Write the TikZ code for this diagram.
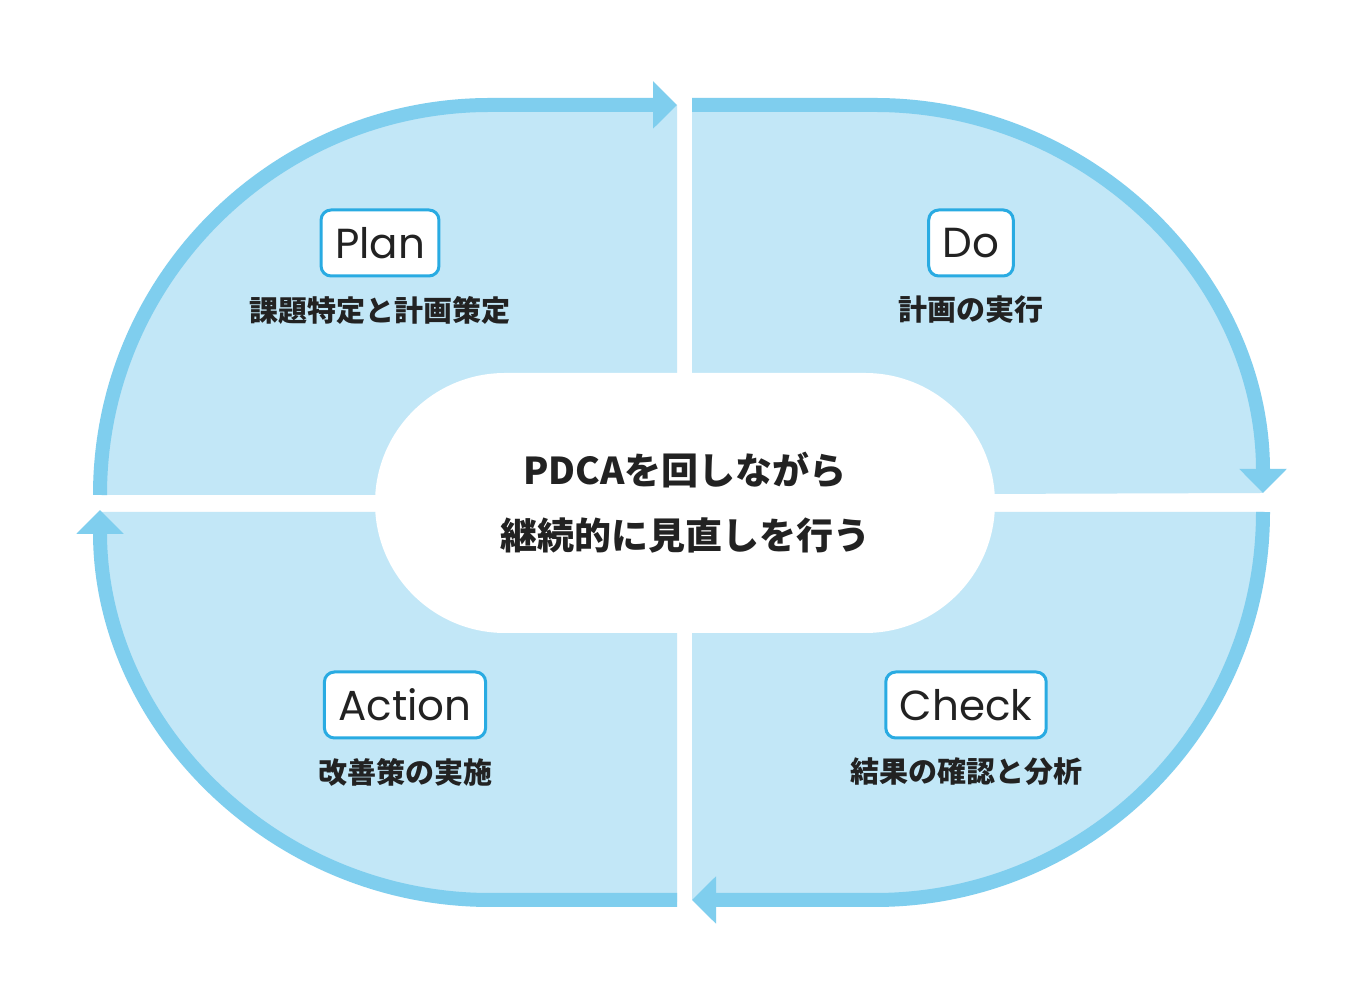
\documentclass[tikz,border=0pt]{standalone}
\usepackage{fontspec}
\usetikzlibrary{arrows.meta}
\newfontfamily\jp{Noto Sans CJK JP}
\newfontfamily\lat{Poppins}
\definecolor{lb}{HTML}{C2E7F7}
\definecolor{sb}{HTML}{7FCEEE}
\definecolor{bb}{HTML}{29ABE2}
\definecolor{tx}{HTML}{222222}
\begin{document}
\begin{tikzpicture}[x=1pt,y=1pt,
  ring/.style={draw=sb,line width=14pt,-{Triangle[width=46pt,length=24pt]}},
  tag/.style={draw=bb,line width=3pt,fill=white,rounded corners=10pt,text=tx,font=\lat\fontsize{42}{46}\selectfont,minimum height=66pt,inner xsep=14pt},
  sub/.style={text=tx,font=\jp\bfseries\fontsize{29}{32}\selectfont},
  mid/.style={text=tx,font=\jp\bfseries\fontsize{37}{44}\selectfont}]
\useasboundingbox (0,0) rectangle (1368,1008);
\fill[white] (0,0) rectangle (1368,1008);
% quadrants
\fill[lb] (100,513) arc[start angle=180,end angle=90,radius=390] -- (677,903) -- (677,513) -- cycle;
\fill[lb] (692,903) -- (875,903) arc[start angle=90,end angle=0,radius=388] -- (692,513) -- cycle;
\fill[lb] (1263,496) arc[start angle=0,end angle=-90,radius=388] -- (692,108) -- (692,496) -- cycle;
\fill[lb] (677,106) -- (490,106) arc[start angle=-90,end angle=-180,radius=390] -- (677,496) -- cycle;
% inner cut
\fill[white,rounded corners=0pt] (505,375) -- (865,375) arc[start angle=-90,end angle=90,radius=130] -- (505,635) arc[start angle=90,end angle=270,radius=130] -- cycle;
% rings
\draw[ring] (100,513) arc[start angle=180,end angle=90,radius=390] -- (677,903);
\draw[ring] (692,903) -- (875,903) arc[start angle=90,end angle=0,radius=388];
\draw[ring] (1263,496) arc[start angle=0,end angle=-90,radius=388] -- (692,108);
\draw[ring] (677,108) -- (490,108) arc[start angle=-90,end angle=-180,radius=390];
% labels
\node[tag] (plan) at (380,765) {Plan};
\node[tag] (do) at (971,765) {Do};
\node[tag] (act) at (405,303) {Action};
\node[tag] (chk) at (966,303) {Check};
\node[sub] (s1) at (380,698) {課題特定と計画策定};
\node[sub] (s2) at (971,698) {計画の実行};
\node[sub] (s3) at (405,236) {改善策の実施};
\node[sub] (s4) at (966,236) {結果の確認と分析};
\node[mid] (m1) at (685,538) {PDCAを回しながら};
\node[mid] (m2) at (685,473) {継続的に見直しを行う};
\end{tikzpicture}
\end{document}
